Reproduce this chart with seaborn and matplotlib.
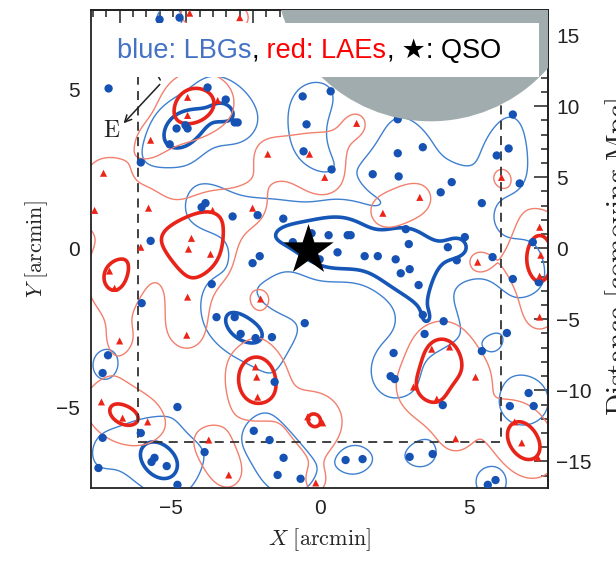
import numpy as np
import pandas as pd
import matplotlib
matplotlib.use("Agg")
import matplotlib.pyplot as plt
import matplotlib.patches as mpatches
from matplotlib.ticker import MultipleLocator, NullFormatter
import seaborn as sns

# ---------------- data (arcmin) ----------------
lbg_x = [-7.08, -5.37, -4.70, -3.76, -3.15, -4.80, -4.50, -4.43, -5.03, -2.85, -2.75, -6.00,
         -0.57, 0.37, -0.44, -0.54, 0.40, -3.83, -3.96, -2.92, -2.08, -1.22, -5.67, -2.01,
         -2.25, -0.90, -0.27, 0.30, 0.00, 0.60, 0.94, -3.62, -5.97, -3.46, -2.85, -0.50,
         -2.65, -2.15, -1.60, -1.51, -7.10, -7.28, -4.77, -2.21, -1.68, -6.00, -7.28, -3.86,
         -5.64, -5.54, -5.13, -7.42, -4.77, -1.21, -1.41, -0.64, 0.87, 1.51, 1.95, 2.55,
         3.02, 2.72, 3.32, 4.60, 5.80, 6.48, 7.35, 3.46, 4.16, 3.52, 6.28, 2.48,
         5.44, 2.38, 2.52, 4.13, 7.01, 6.38, 7.18, 3.79, 3.02, 1.44, 5.64, 5.90,
         2.62, 1.78, 2.65, 5.94, 6.71, 4.06, 4.43, 5.44, 2.89, 1.04, 2.99, 4.30,
         4.87, 7.15, 2.62, 3.46, 6.48, 6.34]
lbg_y = [5.03, 7.20, 7.26, 5.06, 4.68, 3.77, 3.87, 3.77, 3.27, 3.96, 3.96, 2.70,
         4.78, 4.94, 3.90, 3.05, 2.48, 1.42, 1.29, 1.00, 1.04, 0.93, 0.23, -0.25,
         -0.47, 0.19, 0.47, 0.41, -0.35, -0.13, 0.41, -1.13, -1.73, -2.17, -2.17, -2.36,
         -2.70, -2.83, -2.80, -4.21, -3.37, -3.93, -5.00, -5.75, -6.04, -5.82, -5.97, -6.42,
         -6.73, -6.60, -6.86, -6.92, -7.45, -6.60, -7.14, -7.26, -6.67, -0.25, -0.25, -0.35,
         -0.66, -0.79, -1.16, -0.38, -0.28, -0.97, -1.07, -2.10, -2.30, -2.70, -2.67, -3.30,
         -3.24, -4.03, -4.12, -4.94, -4.56, -4.97, -4.97, -6.48, -6.57, -6.64, -7.45, -7.30,
         2.99, 2.33, 2.26, 2.92, 2.04, 1.76, 2.08, 1.42, 0.60, 0.41, 0.13, 0.03,
         0.35, 0.19, 4.06, 3.18, 4.21, 3.14]

lae_x = [-4.36, -2.68, -4.43, -3.42, -4.43, -5.67, -1.74, -0.34, 0.17, -7.25, -7.55, -5.74,
         -3.59, -2.25, -6.00, -4.30, 1.24, -4.40, -3.66, -7.05, -6.88, -4.43, -1.98, -4.46,
         -6.71, -2.15, -2.11, -2.08, -7.32, -6.61, -5.77, -0.40, 0.10, -3.72, -3.05, -0.13,
         5.30, 7.42, 7.38, 7.38, 3.76, 4.36, 3.15, 5.23, 3.93, 6.54, 4.56, 6.78,
         7.32, 3.36, 2.12, 6.10, 7.38]
lae_y = [7.40, 7.26, 4.75, 4.65, 4.18, 3.40, 2.96, 2.96, 2.23, 2.36, 1.19, 1.26,
         1.19, 1.26, 0.03, 0.31, 3.93, -0.03, -0.19, -0.72, -1.26, -1.54, -1.60, -2.74,
         -2.92, -3.74, -4.06, -4.69, -4.84, -5.35, -5.47, -5.31, -5.50, -6.04, -7.14, -7.39,
         -0.44, -0.22, -0.88, -2.17, -3.18, -3.11, -4.37, -4.06, -4.75, -5.47, -6.00, -6.13,
         -6.60, 1.60, 1.10, 2.23, 0.66]

qso_x = [-0.40]
qso_y = [-0.06]

legend_parts = [("blue: LBGs", "#4472c4"), (",", "black"), (" red: LAEs", "#ff0000"),
                (",", "black"), (" \u2605: QSO", "black")]

# smoothing / contour settings (density in units of one isolated source's peak)
smooth_sigma = {"lbg": 0.70, "lae": 0.72}
lbg_levels = [1.55, 3.0]
lae_levels = [0.95, 1.85]

arcmin_to_cmpc = 2.235
xlim = (-7.67, 7.66)
ylim = (-7.55, 7.50)
box_half = 6.1
mask_center = (3.72, 8.9)
mask_size = (10.47, 9.81)
compass_origin = (-5.30, 5.22)
compass_east = (-6.64, 3.87)
compass_north = (-5.95, 6.3)
east_label_pos = (-6.98, 3.70)

lbg = pd.DataFrame({"x": lbg_x, "y": lbg_y})
lae = pd.DataFrame({"x": lae_x, "y": lae_y})


def smoothed_map(df, sigma, gx, gy):
    dx = gx[..., None] - df["x"].to_numpy()
    dy = gy[..., None] - df["y"].to_numpy()
    return np.exp(-(dx ** 2 + dy ** 2) / (2 * sigma ** 2)).sum(axis=-1)


# ---------------- style ----------------
sns.set_theme(style="white")
plt.rcParams["font.family"] = ["Liberation Sans", "DejaVu Sans"]
plt.rcParams["mathtext.fontset"] = "cm"

fig = plt.figure(figsize=(6.16, 5.70), dpi=100)
ax = fig.add_axes([91 / 616, 82 / 570, 457 / 616, 478 / 570])

BLUE_THIN = "#3f80d0"
BLUE_THICK = "#1556b6"
RED_THIN = "#f2806e"
RED_THICK = "#e8241a"

gxv = np.linspace(xlim[0] - 0.5, xlim[1] + 0.5, 320)
gyv = np.linspace(ylim[0] - 0.5, ylim[1] + 0.5, 320)
GX, GY = np.meshgrid(gxv, gyv)

for df, key, lev, thin_c, thick_c in [(lbg, "lbg", lbg_levels, BLUE_THIN, BLUE_THICK),
                                       (lae, "lae", lae_levels, RED_THIN, RED_THICK)]:
    dens = smoothed_map(df, smooth_sigma[key], GX, GY)
    ax.contour(GX, GY, dens, levels=lev, colors=[thin_c, thick_c],
               linewidths=[1.0, 2.6], zorder=2)

sns.scatterplot(data=lbg, x="x", y="y", color="#1552b4", s=36, edgecolor="none",
                zorder=4, ax=ax)
sns.scatterplot(data=lae, x="x", y="y", color="#ec2418", marker="^", s=26,
                edgecolor="none", zorder=4, ax=ax)
ax.scatter(qso_x, qso_y, marker="*", s=1450, color="black", zorder=6, linewidths=0)

# survey box
ax.plot([-box_half, box_half, box_half, -box_half, -box_half],
        [-box_half, -box_half, box_half, box_half, -box_half],
        ls=(0, (5, 3.5)), color="#333333", lw=1.3, zorder=3)

# masked region
ax.add_patch(mpatches.Ellipse(mask_center, mask_size[0], mask_size[1],
                              facecolor="#a1acae", edgecolor="none", zorder=5))

# compass
ax.annotate("", xy=compass_east, xytext=compass_origin,
            arrowprops=dict(arrowstyle="->", lw=1.1, color="#222222"), zorder=5)
ax.annotate("", xy=compass_north, xytext=compass_origin,
            arrowprops=dict(arrowstyle="-", lw=1.1, color="#222222"), zorder=5)
ax.text(east_label_pos[0], east_label_pos[1], r"$\mathrm{E}$", fontsize=17,
        ha="center", va="center", color="#222222", zorder=5)

ax.set_xlim(*xlim)
ax.set_ylim(*ylim)
ax.set_xlabel(r"$X\ \mathrm{[arcmin]}$", fontsize=16, labelpad=6)
ax.set_ylabel(r"$Y\ \mathrm{[arcmin]}$", fontsize=16, labelpad=4)

for sp in ax.spines.values():
    sp.set_linewidth(1.3)
    sp.set_color("#222222")

ax.xaxis.set_major_locator(MultipleLocator(5))
ax.xaxis.set_minor_locator(MultipleLocator(1))
ax.yaxis.set_major_locator(MultipleLocator(5))
ax.yaxis.set_minor_locator(MultipleLocator(1))
ax.tick_params(which="both", direction="in", top=False, right=False, color="#222222",
               width=1.1, labelsize=15, labelcolor="#222222")
ax.tick_params(which="major", length=10, pad=8)
ax.tick_params(which="minor", length=5)

fwd = lambda v: v * arcmin_to_cmpc
inv = lambda v: v / arcmin_to_cmpc
secy = ax.secondary_yaxis("right", functions=(fwd, inv))
secx = ax.secondary_xaxis("top", functions=(fwd, inv))
for sa in (secy, secx):
    for sp in sa.spines.values():
        sp.set_linewidth(1.3)
        sp.set_color("#222222")
secy.yaxis.set_major_locator(MultipleLocator(5))
secy.yaxis.set_minor_locator(MultipleLocator(1))
secx.xaxis.set_major_locator(MultipleLocator(5))
secx.xaxis.set_minor_locator(MultipleLocator(1))
secx.xaxis.set_major_formatter(NullFormatter())
secy.tick_params(which="both", direction="in", color="#222222", width=1.1,
                 labelsize=15, labelcolor="#222222")
secy.tick_params(which="major", length=10, pad=6)
secy.tick_params(which="minor", length=5)
secx.tick_params(which="both", direction="in", color="#222222", width=1.1,
                 labeltop=False)
secx.tick_params(which="major", length=10)
secx.tick_params(which="minor", length=5)

fig.text(603 / 616, 0.55, r"$\mathrm{Distance\ [comoving\ Mpc]}$", rotation=90,
         ha="left", va="center", fontsize=21, color="#222222")

# legend-like header box
fig.patches.append(mpatches.Rectangle((97 / 616, 1 - 77 / 570), 442 / 616, 54 / 570,
                                      transform=fig.transFigure, facecolor="white",
                                      edgecolor="none", zorder=20))
renderer = fig.canvas.get_renderer()
xpos = 117 / 616
for s, c in legend_parts:
    t = fig.text(xpos, 1 - 51 / 570, s, color=c, fontsize=19.5, ha="left", va="center",
                 family=["Liberation Sans", "DejaVu Sans"], zorder=21)
    w = t.get_window_extent(renderer).width
    xpos += w / fig.bbox.width

fig.savefig("out.png", dpi=100)
